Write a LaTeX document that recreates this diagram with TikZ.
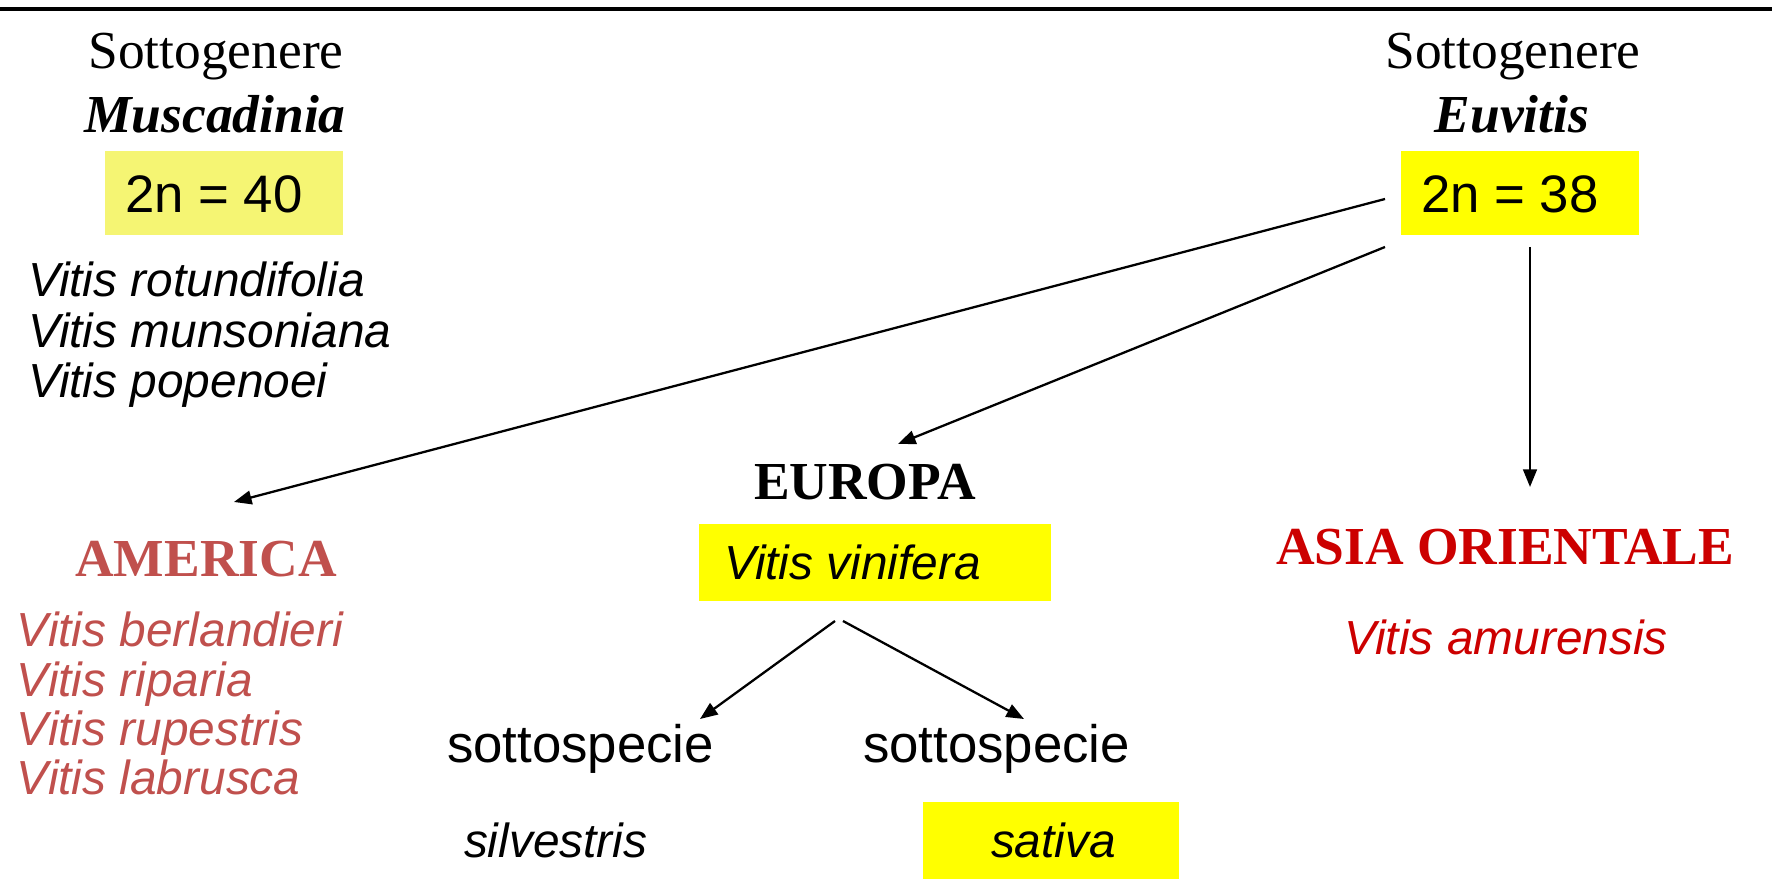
\documentclass[tikz,border=0pt]{standalone}
\usepackage{fontspec}
\setmainfont{Liberation Serif}
\newfontfamily\arialfont{Liberation Sans}
\usetikzlibrary{arrows.meta}

\definecolor{paleyellow}{RGB}{245,245,115}
\definecolor{brightyellow}{RGB}{255,255,0}
\definecolor{americared}{RGB}{192,80,77}
\definecolor{asiared}{RGB}{204,0,0}

\tikzset{
  txt/.style={inner sep=0pt, outer sep=0pt},
  serif/.style={txt, font=\fontsize{15.2}{18}\selectfont},
  serifbold/.style={txt, font=\fontsize{15.2}{18}\selectfont\bfseries},
  sansbig/.style={txt, font=\arialfont\fontsize{15}{18}\selectfont},
  sansit/.style={txt, font=\arialfont\itshape\fontsize{13.6}{16}\selectfont},
  hlbox/.style={draw=none, inner sep=0pt, outer sep=0pt},
  link/.style={line width=0.65pt, -{Triangle[length=5pt,width=3.9pt]}},
}

\begin{document}
\begin{tikzpicture}[x=0.01cm, y=-0.01cm]
\useasboundingbox (0,0) rectangle (1776,892);

% rule along the top
\draw[line width=1.1pt] (0,9) -- (1772,9);

% highlight boxes
\node[hlbox, fill=paleyellow, minimum width=2.38cm, minimum height=0.84cm] (boxM) at (224,193) {};
\node[hlbox, fill=brightyellow, minimum width=2.38cm, minimum height=0.84cm] (boxE) at (1520,193) {};
\node[hlbox, fill=brightyellow, minimum width=3.52cm, minimum height=0.77cm] (boxV) at (875,562.5) {};
\node[hlbox, fill=brightyellow, minimum width=2.56cm, minimum height=0.77cm] (boxS) at (1051,840.5) {};

% subgenus Muscadinia
\node[serif, anchor=base] (sgM) at (216,69) {Sottogenere};
\node[serifbold, anchor=base] (nameM) at (215,133) {\itshape Muscadinia};
\node[sansbig, anchor=base west] (chrM) at (125,213) {2n = 40};
\node[sansit, anchor=base west] (m1) at (28,297) {Vitis rotundifolia};
\node[sansit, anchor=base west] (m2) at (28,348) {Vitis munsoniana};
\node[sansit, anchor=base west] (m3) at (28,398) {Vitis popenoei};

% subgenus Euvitis
\node[serif, anchor=base] (sgE) at (1513,69) {Sottogenere};
\node[serifbold, anchor=base] (nameE) at (1512,133) {\itshape Euvitis};
\node[sansbig, anchor=base west] (chrE) at (1421,213) {2n = 38};

% America
\node[serifbold, text=americared, anchor=base] (am) at (206,577) {AMERICA};
\node[sansit, text=americared, anchor=base west] (a1) at (17,647) {Vitis berlandieri};
\node[sansit, text=americared, anchor=base west] (a2) at (17,697) {Vitis riparia};
\node[sansit, text=americared, anchor=base west] (a3) at (17,746) {Vitis rupestris};
\node[sansit, text=americared, anchor=base west] (a4) at (17,795) {Vitis labrusca};

% Europe
\node[serifbold, anchor=base] (eu) at (865,500) {EUROPA};
\node[sansit, anchor=base west] (vin) at (724,580) {Vitis vinifera};
\node[sansbig, anchor=base west] (ssL) at (447,763) {sottospecie};
\node[sansbig, anchor=base west] (ssR) at (863,763) {sottospecie};
\node[sansit, anchor=base west] (sil) at (464,857) {silvestris};
\node[sansit, anchor=base west] (sat) at (991,857) {sativa};

% East Asia
\node[serifbold, text=asiared, anchor=base] (as) at (1505,565) {ASIA ORIENTALE};
\node[sansit, text=asiared, anchor=base] (amu) at (1506,655) {Vitis amurensis};

% connector end points
\coordinate (eA) at (1385,199);
\coordinate (eB) at (1385,247);
\coordinate (eC) at (1530,247);
\coordinate (tA) at (234,502);
\coordinate (tB) at (898,444);
\coordinate (tC) at (1530,487);
\coordinate (vL) at (835,621);
\coordinate (vR) at (843,621);
\coordinate (tL) at (700,719);
\coordinate (tR) at (1024,719);

\draw[link] (eA) -- (tA);
\draw[link] (eB) -- (tB);
\draw[link] (eC) -- (tC);
\draw[link] (vL) -- (tL);
\draw[link] (vR) -- (tR);
\end{tikzpicture}
\end{document}
